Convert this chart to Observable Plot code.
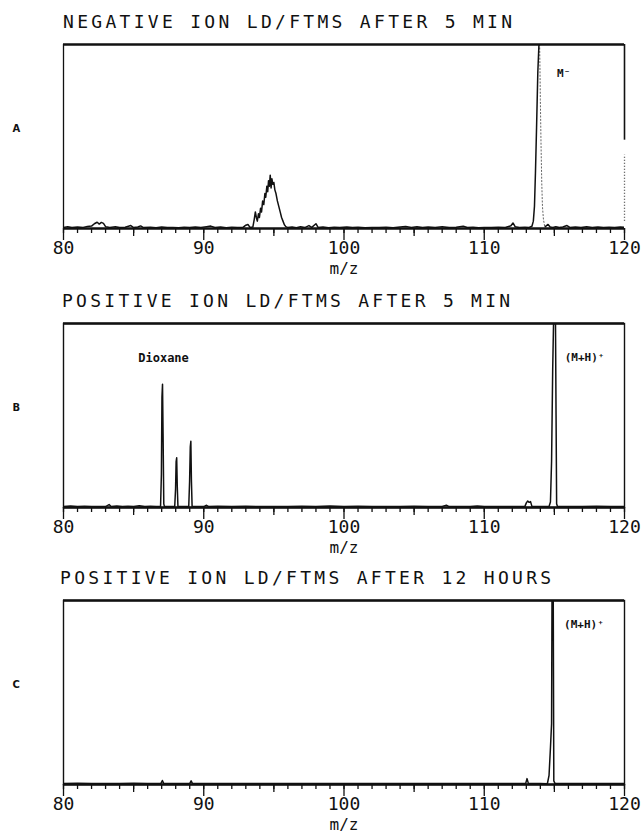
<!DOCTYPE html>
<html><head><meta charset="utf-8">
<script src="https://cdn.jsdelivr.net/npm/d3@7"></script>
<script src="https://cdn.jsdelivr.net/npm/@observablehq/plot@0.6"></script>
<style>
body{margin:0;background:#fff;}
#chart{position:relative;width:641px;height:835px;overflow:hidden;background:#fff;}
.ttl{position:absolute;font-family:"DejaVu Sans Mono",monospace;font-size:18px;white-space:nowrap;color:#111;line-height:1;}
.panel{position:absolute;left:0;}
</style></head><body><div id="chart"></div><script>
// ---------- data ----------
const titles = ["NEGATIVE ION LD/FTMS AFTER 5 MIN", "POSITIVE ION LD/FTMS AFTER 5 MIN", "POSITIVE ION LD/FTMS AFTER 12 HOURS"];
const panelLetters = ["A", "B", "C"];
const xTickLabels = [80, 90, 100, 110, 120];
const xMinorTicks = d3.range(80, 121, 1);
const xMidTicks = [85, 95, 105, 115];

// panel A: negative ion spectrum (m/z, relative intensity %)
const traceA = [[80.0,0.6],[80.3,0.9],[80.6,0.5],[81.0,0.8],[81.4,0.6],[81.7,1.1],[82.0,1.3],[82.2,2.6],[82.4,3.4],[82.55,2.4],[82.7,3.3],[82.85,2.8],[83.0,1.0],[83.3,0.6],[83.7,0.9],[84.0,0.5],[84.4,0.7],[84.8,1.6],[85.0,0.5],[85.3,0.8],[85.5,1.4],[85.7,0.5],[86.2,0.7],[86.6,0.4],[87.0,0.8],[87.4,0.5],[87.8,0.6],[88.2,0.4],[88.6,0.7],[89.0,0.5],[89.4,0.8],[89.8,0.6],[90.2,1.0],[90.5,1.3],[90.8,0.5],[91.2,0.8],[91.6,0.4],[92.0,0.7],[92.4,0.5],[92.8,0.6],[93.0,1.8],[93.15,2.2],[93.3,0.6],[93.5,0.8],[93.6,5],[93.68,9],[93.75,6],[93.82,4],[93.9,8],[93.97,6],[94.05,11],[94.12,9],[94.2,15],[94.28,13],[94.36,19],[94.42,17],[94.5,23],[94.56,20],[94.62,26],[94.68,23],[94.74,29],[94.8,22],[94.86,27],[94.93,24],[95.0,25],[95.07,21],[95.15,19],[95.25,15],[95.35,12],[95.45,9],[95.55,6],[95.65,4],[95.75,2],[95.85,1],[96.0,0.5],[96.3,0.8],[96.6,0.4],[96.9,0.9],[97.2,0.5],[97.5,1.6],[97.7,0.6],[98.0,2.6],[98.15,0.6],[98.5,0.8],[98.9,0.4],[99.3,0.7],[99.7,0.5],[100.2,0.8],[100.6,0.5],[101.0,0.7],[101.5,0.4],[102.0,0.6],[102.5,0.5],[103.0,0.7],[103.5,0.4],[104.0,0.8],[104.4,1.1],[104.8,0.6],[105.2,0.9],[105.6,0.5],[106.0,0.8],[106.5,0.6],[107.0,0.9],[107.5,0.5],[108.0,0.7],[108.5,1.2],[108.8,0.5],[109.2,0.7],[109.6,0.4],[110.0,0.6],[110.5,0.5],[111.0,0.7],[111.5,0.5],[111.9,1.5],[112.05,3.0],[112.2,1.0],[112.5,0.5],[112.9,0.7],[113.2,0.6],[113.4,1.2],[113.5,4],[113.58,12],[113.65,30],[113.73,55],[113.82,85],[113.9,100],[113.95,100]];
const fallA = [[113.95,100],[114.0,70],[114.05,45],[114.1,25],[114.15,12],[114.22,5],[114.3,1.5]];
const tailA = [[114.35,1.0],[114.55,2.2],[114.7,0.8],[114.9,0.6],[115.1,1.0],[115.35,0.5],[115.6,0.8],[115.9,1.6],[116.1,0.6],[116.5,0.8],[116.9,0.5],[117.3,0.9],[117.7,0.6],[118.1,0.8],[118.5,0.5],[118.9,0.7],[119.3,0.5],[119.7,0.8],[120.0,0.6]];

// panel B: positive ion spectrum after 5 min
const traceB = [[80,0.6],[80.5,0.8],[81,0.5],[81.5,0.7],[82,0.5],[82.5,0.6],[83.0,0.5],[83.25,1.6],[83.4,0.5],[83.8,0.8],[84.2,0.5],[84.6,0.7],[85.0,0.6],[85.4,0.9],[85.8,0.5],[86.2,0.7],[86.6,0.5],[86.92,0.6],[86.98,18],[87.02,60],[87.06,67],[87.1,40],[87.15,2],[87.2,0.5],[87.6,0.6],[87.93,0.5],[87.99,10],[88.03,25],[88.07,27],[88.11,12],[88.16,0.6],[88.5,0.5],[88.93,0.5],[88.99,14],[89.04,33],[89.08,36],[89.12,15],[89.17,0.5],[89.6,0.6],[90.0,0.5],[90.2,1.2],[90.35,0.5],[91,0.7],[92,0.5],[93,0.7],[94,0.5],[95,0.6],[96,0.5],[97,0.7],[98,0.5],[99,0.8],[100,0.5],[101,0.7],[102,0.5],[103,0.6],[104,0.5],[105,0.7],[106,0.5],[107,0.6],[107.3,1.2],[107.5,0.5],[108,0.6],[109,0.5],[109.5,0.8],[110,0.5],[111,0.6],[112,0.5],[112.9,0.6],[113.0,2.5],[113.1,3.5],[113.2,2.8],[113.3,3.2],[113.4,0.6],[114,0.5],[114.62,0.5],[114.72,3],[114.8,25],[114.88,75],[114.94,100],[115.08,100],[115.12,50],[115.16,2],[115.22,0.5],[116,0.6],[117,0.5],[118,0.7],[119,0.5],[120,0.6]];

// panel C: positive ion spectrum after 12 hours
const traceC = [[80,0.5],[81,0.7],[82,0.5],[83,0.6],[84,0.5],[85,0.7],[86,0.5],[86.95,0.6],[87.05,2.2],[87.15,0.5],[88,0.6],[89.0,0.5],[89.1,2.0],[89.2,0.5],[90,0.6],[92,0.5],[94,0.6],[96,0.5],[98,0.6],[100,0.5],[102,0.6],[104,0.5],[106,0.6],[108,0.5],[110,0.6],[112,0.5],[112.95,0.5],[113.05,3.2],[113.15,0.5],[114,0.6],[114.5,0.4],[114.62,5],[114.72,20],[114.8,33],[114.83,100],[114.92,100],[114.96,2],[115.05,0.5],[116,0.6],[117,0.5],[118,0.6],[119,0.5],[120,0.5]];

const annotations = [
  [{text: "M⁻", mz: 113.95, dx: 24, dy: 25, size: 11}],
  [{text: "Dioxane", mz: 87.06, dx: 1, dy: 30, size: 12}, {text: "(M+H)⁺", mz: 114.94, dx: 31, dy: 30, size: 11}],
  [{text: "(M+H)⁺", mz: 114.83, dx: 32, dy: 20, size: 11}]
];

// ---------- drawing ----------
const chart = document.getElementById("chart");
const panelTop = [0, 279, 556];
const titleLeft = [63, 62, 60];
const titleWidth = [449, 448, 491];
const traces = [[traceA, tailA], [traceB], [traceC]];

function makePanel(i) {
  const lines = traces[i].map(t => Plot.line(t, {x: d => d[0], y: d => d[1], stroke: "#111", strokeWidth: 1.5, clip: true}));
  const extra = i === 0 ? [
    Plot.ruleX([80], {y1: 0, y2: 100, stroke: "#111", strokeWidth: 1.3}),
    Plot.line(fallA, {x: d => d[0], y: d => d[1], stroke: "#666", strokeWidth: 1, strokeDasharray: "1.2,2.2", clip: true}),
    Plot.ruleX([120], {y1: 48, y2: 100, stroke: "#111", strokeWidth: 1.6}),
    Plot.ruleX([120], {y1: 4, y2: 40, stroke: "#444", strokeWidth: 1.3, strokeDasharray: "1,2"})
  ] : [Plot.frame({stroke: "#111", strokeWidth: 1.4})];
  const notes = annotations[i].map(a => Plot.text([a], {
    x: "mz", text: "text", frameAnchor: "top", dx: a.dx, dy: a.dy, fontSize: a.size,
    fontWeight: "bold", textAnchor: "middle", fill: "#111"
  }));
  return Plot.plot({
    width: 641, height: 280,
    marginLeft: 63, marginRight: 17, marginTop: 44, marginBottom: 52,
    x: {domain: [80, 120]},
    y: {domain: [0, 100], axis: null},
    style: {fontFamily: "'DejaVu Sans Mono', monospace", fontSize: "18px", color: "#111", background: "transparent", overflow: "visible"},
    marks: [
      ...extra,
      Plot.ruleY([100], {stroke: "#111", strokeWidth: 2.4}),
      Plot.axisX({ticks: xMinorTicks, tickSize: 5, fill: "none", label: null, strokeWidth: 1.3}),
      Plot.axisX({ticks: xMidTicks, tickSize: 8, fill: "none", label: null, strokeWidth: 1.3}),
      Plot.axisX({ticks: xTickLabels, tickSize: 12, tickPadding: 1, label: null, strokeWidth: 1.3, fontSize: 18}),
      ...lines,
      Plot.ruleY([0], {stroke: "#111", strokeWidth: 2.6}),
      Plot.text([panelLetters[i]], {frameAnchor: "left", dx: -51, dy: -8, fontWeight: "bold", fontSize: 10, fontFamily: "'DejaVu Sans', sans-serif"}),
      Plot.text(["m/z"], {frameAnchor: "bottom", dy: 45, fontSize: 16}),
      ...notes
    ]
  });
}

[0, 1, 2].forEach(i => {
  const svg = makePanel(i);
  svg.classList.add("panel");
  svg.style.top = panelTop[i] + "px";
  chart.appendChild(svg);
  const t = document.createElement("div");
  t.className = "ttl";
  t.textContent = titles[i];
  t.style.left = titleLeft[i] + "px";
  t.style.top = (panelTop[i] + 13) + "px";
  chart.appendChild(t);
  const w = t.getBoundingClientRect().width;
  const n = titles[i].length;
  t.style.letterSpacing = ((titleWidth[i] - w) / (n - 1)).toFixed(2) + "px";
});
</script></body></html>
